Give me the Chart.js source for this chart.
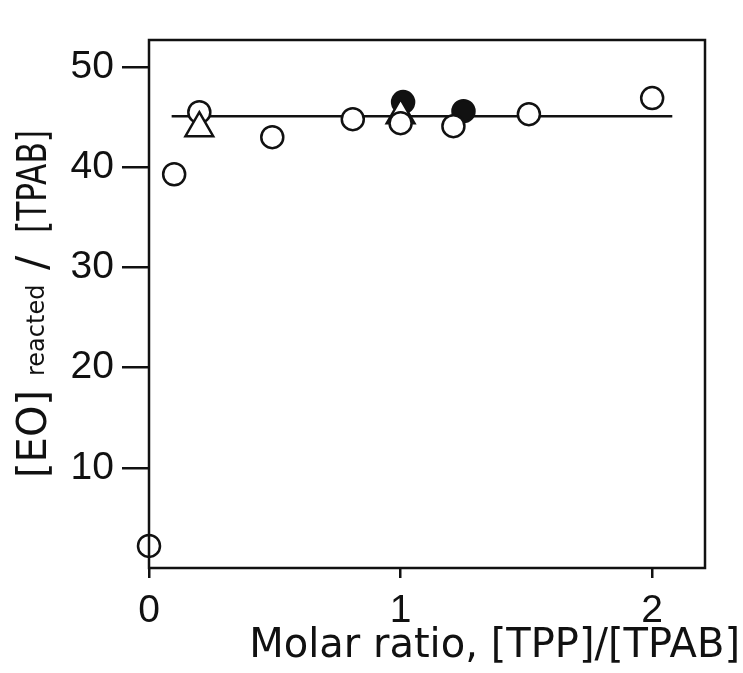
<!DOCTYPE html>
<html>
<head>
<meta charset="utf-8">
<script src="https://cdn.jsdelivr.net/npm/chart.js@4"></script>
<style>
  html, body { margin: 0; padding: 0; background: #fff; }
  #wrap { width: 743px; height: 673px; }
</style>
</head>
<body>
<div id="wrap"><canvas id="chart" width="743" height="673"></canvas></div>
<script>
// Data
const openX = [0.0, 0.10, 0.20, 0.49, 0.81, 1.0, 1.21, 1.51, 2.0];
const openY = [2.2, 39.3, 45.5, 43.0, 44.8, 44.4, 44.1, 45.3, 46.9];
const filledX = [1.01, 1.25];
const filledY = [46.5, 45.6];
const triX = [0.20, 1.0];
const triY = [43.9, 45.2];
const fitX = [0.09, 2.08];
const fitY = [45.1, 45.1];
const xTicks = [0, 1, 2];
const yTicks = [10, 20, 30, 40, 50];

const ink = '#111';
const font = '"DejaVu Sans", sans-serif';
const numFont = '"Liberation Sans", Arial, sans-serif';
const pts = (xs, ys) => xs.map((x, i) => ({ x: x, y: ys[i] }));

// frame + axis titles
const decor = {
    id: 'decor',
    afterDatasetsDraw(chart) {
        const { ctx, chartArea: a } = chart;
        ctx.save();
        ctx.strokeStyle = ink;
        ctx.lineWidth = 2.5;
        ctx.strokeRect(a.left, a.top, a.right - a.left, a.bottom - a.top);

        ctx.fillStyle = ink;
        ctx.textBaseline = 'alphabetic';
        ctx.font = '40px ' + font;
        ctx.textAlign = 'right';
        ctx.fillText('Molar ratio, [TPP]/[TPAB]', 740, 657);

        // rotated y title, subscript "reacted"
        ctx.translate(46, 478);
        ctx.rotate(-Math.PI / 2);
        ctx.textAlign = 'left';
        ctx.font = '40px ' + font;
        ctx.fillText('[EO]', 0, 0, 97);
        ctx.font = '24px ' + font;
        ctx.fillText('reacted', 102, -2, 92);
        ctx.font = '42px ' + font;
        ctx.fillText('/', 208, 0);
        ctx.font = '40px ' + font;
        ctx.fillText('[TPAB]', 245, 0, 103);
        ctx.restore();
    }
};

new Chart(document.getElementById('chart').getContext('2d'), {
    type: 'scatter',
    data: {
        datasets: [
            {
                label: 'fit',
                type: 'line',
                data: pts(fitX, fitY),
                borderColor: ink,
                borderWidth: 2.5,
                pointRadius: 0,
                fill: false,
                order: 10
            },
            {
                label: 'filled',
                data: pts(filledX, filledY),
                pointStyle: 'circle',
                pointRadius: 11,
                backgroundColor: ink,
                borderColor: ink,
                borderWidth: 2.5,
                order: 5
            },
            {
                label: 'triangle (1.0)',
                data: pts(triX.slice(1), triY.slice(1)),
                pointStyle: 'triangle',
                pointRadius: 16,
                backgroundColor: '#fff',
                borderColor: ink,
                borderWidth: 2.5,
                order: 4
            },
            {
                label: 'open',
                data: pts(openX, openY),
                pointStyle: 'circle',
                pointRadius: 11,
                backgroundColor: '#fff',
                borderColor: ink,
                borderWidth: 2.5,
                clip: false,
                order: 3
            },
            {
                label: 'triangle (0.2)',
                data: pts(triX.slice(0, 1), triY.slice(0, 1)),
                pointStyle: 'triangle',
                pointRadius: 16,
                backgroundColor: '#fff',
                borderColor: ink,
                borderWidth: 2.5,
                order: 2
            }
        ]
    },
    options: {
        responsive: false,
        animation: false,
        layout: { padding: { left: 0, top: 40, right: 38, bottom: 0 } },
        plugins: { legend: { display: false }, tooltip: { enabled: false } },
        elements: { point: { hoverRadius: 11 } },
        scales: {
            x: {
                type: 'linear',
                min: 0,
                max: 2.21,
                afterFit: s => { s.height = 105; },
                afterBuildTicks: s => { s.ticks = xTicks.map(v => ({ value: v })); },
                border: { display: false },
                grid: { drawOnChartArea: false, drawTicks: true, tickLength: 10, tickColor: ink, lineWidth: 2.5 },
                ticks: { color: ink, padding: 10, font: { family: numFont, size: 39 }, maxRotation: 0 }
            },
            y: {
                min: 0,
                max: 52.7,
                afterFit: s => { s.width = 149; },
                afterBuildTicks: s => { s.ticks = yTicks.map(v => ({ value: v })); },
                border: { display: false },
                grid: { drawOnChartArea: false, drawTicks: true, tickLength: 27, tickColor: ink, lineWidth: 2.5 },
                ticks: { color: ink, padding: 8, font: { family: numFont, size: 39 } }
            }
        }
    },
    plugins: [decor]
});
</script>
</body>
</html>
